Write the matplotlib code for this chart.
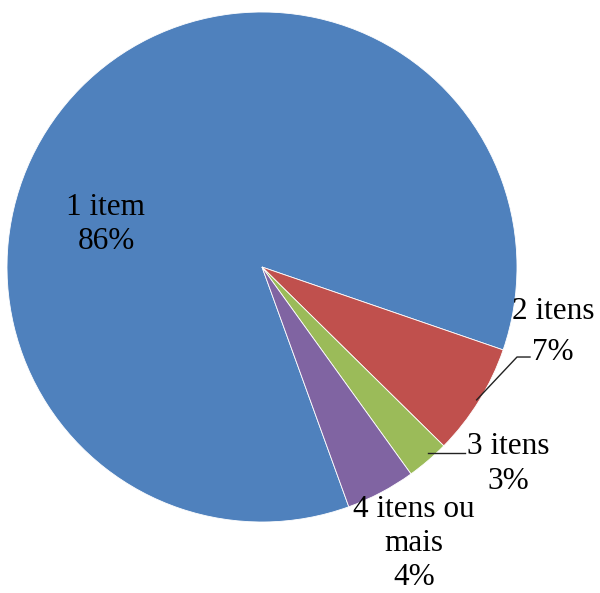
import numpy as np
from matplotlib import pyplot as plt

categories = ['1 item', '2 itens', '3 itens', '4 itens ou\nmais']
shares = [85.8, 7.1, 2.7, 4.4]   # percent
shown_pct = ['86%', '7%', '3%', '4%']
colours = ['#4F81BD', '#C0504D', '#9BBB59', '#8064A2']

# label centres in data units (pie radius = 1) and line spacing of each label
label_pos = [(-0.612, 0.167), (1.141, -0.255), (0.965, -0.773), (0.596, -1.084)]
label_spacing = [1.25, 1.56, 1.25, 1.22]
# leader lines in data units (None = no leader); 'edge' = point on the wedge rim
leaders = [None,
           ['edge', (1.0, -0.353), (1.051, -0.353)],
           [(0.651, -0.729), (0.796, -0.729)],
           None]

plt.rcParams['font.family'] = ['Liberation Serif', 'DejaVu Serif']

fig = plt.figure(figsize=(6.0, 5.93), dpi=100)
ax = fig.add_axes([0, 0, 1, 1])
wedges, _ = ax.pie(shares, colors=colours, startangle=-70.1, counterclock=False,
                   radius=1.0, center=(0, 0),
                   wedgeprops=dict(edgecolor='white', linewidth=0.6))

for i, w in enumerate(wedges):
    txt = categories[i] + '\n' + shown_pct[i]
    ax.text(label_pos[i][0], label_pos[i][1], txt, ha='center', va='center',
            fontsize=22.5, linespacing=label_spacing[i], color='black')
    if leaders[i] is not None:
        mid = np.deg2rad((w.theta1 + w.theta2) / 2)
        pts = [(0.99 * np.cos(mid), 0.99 * np.sin(mid)) if p == 'edge' else p
               for p in leaders[i]]
        xs, ys = zip(*pts)
        ax.plot(xs, ys, color='#222222', lw=1.0)

ax.set_xlim(-262 / 255, 338 / 255)
ax.set_ylim(-326 / 255, 267 / 255)
ax.set_aspect('equal')
ax.axis('off')
fig.savefig('out.png', dpi=100)
